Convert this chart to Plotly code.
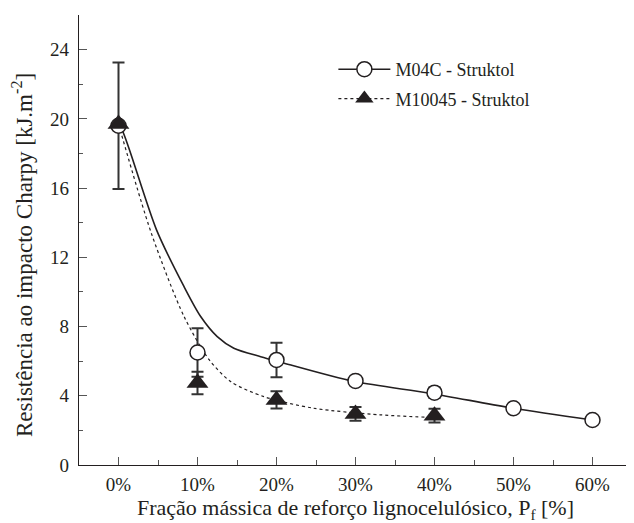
import plotly.graph_objects as go

# Measured points
frac = [0, 10, 20, 30, 40, 50, 60]
m04c = [19.6, 6.5, 6.07, 4.86, 4.18, 3.28, 2.6]
m04c_err = [3.65, 1.4, 1.0, 0.2, 0.3, 0.2, 0.2]

frac2 = [0, 10, 20, 30, 40]
m10045 = [19.7, 4.74, 3.76, 2.95, 2.85]
m10045_err = [0.1, 0.65, 0.5, 0.4, 0.4]

# Fitted curves
fit1_x = [0, 0.5, 4.8, 8.3, 10.4, 12.5, 14.6, 18, 20.3, 29.9, 39.4, 50, 60]
fit1_y = [19.6, 19.3, 13.6, 10.3, 8.58, 7.42, 6.75, 6.26, 5.97, 4.82, 4.15, 3.28, 2.6]
fit2_x = [0, 4.15, 8.3, 11.5, 14.2, 18.4, 24.7, 33.1, 39, 40]
fit2_y = [19.7, 13.4, 8.58, 6.07, 4.82, 3.95, 3.28, 2.9, 2.76, 2.75]

tick_vals = [0, 10, 20, 30, 40, 50, 60]
tick_text = ["0%", "10%", "20%", "30%", "40%", "50%", "60%"]

INK = "#231f20"
FONT = "Liberation Serif, Times New Roman, serif"

fig = go.Figure()

fig.add_trace(go.Scatter(x=fit1_x, y=fit1_y, mode="lines", line=dict(color=INK, width=1.6, shape="spline", smoothing=0.8),
                         showlegend=False, hoverinfo="skip"))
fig.add_trace(go.Scatter(x=fit2_x, y=fit2_y, mode="lines", line=dict(color=INK, width=1.2, dash="dot", shape="spline", smoothing=0.8),
                         showlegend=False, hoverinfo="skip"))

fig.add_trace(go.Scatter(x=frac, y=m04c, mode="markers",
                         marker=dict(symbol="circle", size=15, color="white", line=dict(color=INK, width=1.5)),
                         error_y=dict(type="data", array=m04c_err, color="#333333", thickness=2, width=6),
                         showlegend=False))
fig.add_trace(go.Scatter(x=frac2, y=m10045, mode="markers",
                         marker=dict(symbol="triangle-up", size=19, color=INK, line=dict(color=INK, width=0)),
                         error_y=dict(type="data", array=m10045_err, color="#333333", thickness=2, width=6),
                         showlegend=False))

# legend entries
fig.add_trace(go.Scatter(x=[None], y=[None], mode="lines+markers", name="M04C - Struktol", legendgroup="a",
                         line=dict(color=INK, width=1.6),
                         marker=dict(symbol="circle", size=15, color="white", line=dict(color=INK, width=1.5))))
fig.add_trace(go.Scatter(x=[None], y=[None], mode="lines+markers", name="M10045 - Struktol", legendgroup="b",
                         line=dict(color=INK, width=1.2, dash="dot"),
                         marker=dict(symbol="triangle-up", size=19, color=INK)))

fig.update_layout(
    width=626, height=515,
    margin=dict(l=71, r=2, t=7, b=58),
    paper_bgcolor="white", plot_bgcolor="white",
    font=dict(family=FONT, color=INK, size=19),
    legend=dict(x=0.46, y=0.92, xanchor="left", yanchor="top", bgcolor="rgba(0,0,0,0)",
                font=dict(size=18, family=FONT, color=INK), itemwidth=52, tracegroupgap=3),
    xaxis=dict(range=[-5, 65], tickvals=tick_vals, ticktext=tick_text, ticks="inside", ticklen=8,
               tickwidth=1, tickcolor="#555555", showline=True, linecolor=INK, linewidth=1.2,
               showgrid=False, zeroline=False, mirror=False, automargin=False, ticklabelstandoff=2,
               minor=dict(dtick=5, tick0=5, ticks="inside", ticklen=5, tickcolor="#555555"),
               title=dict(text="Fração mássica de reforço lignocelulósico, P<sub>f</sub> [%]", font=dict(size=22), standoff=8),
               tickfont=dict(size=19)),
    yaxis=dict(range=[0, 26], tickvals=[0, 4, 8, 12, 16, 20, 24], ticks="inside", ticklen=8,
               tickwidth=1, tickcolor="#555555", showline=True, linecolor=INK, linewidth=1.2,
               showgrid=False, zeroline=False, automargin=False, ticklabelstandoff=5,
               minor=dict(tickvals=[2, 6, 10, 14, 18, 22], ticks="inside", ticklen=4, tickcolor="#555555"),
               tickfont=dict(size=19)),
    annotations=[dict(text="Resistência ao impacto Charpy [kJ.m<sup>-2</sup>]", textangle=-90,
                      xref="paper", yref="paper", x=-0.101, y=0.467, xanchor="center", yanchor="middle",
                      showarrow=False, font=dict(size=23, family=FONT, color=INK))],
)

fig.write_html("out.html")
